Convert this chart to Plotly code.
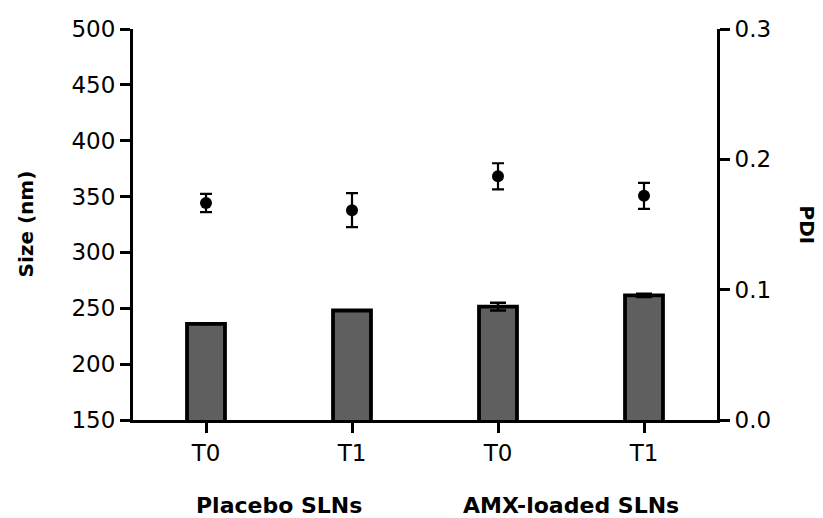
import plotly.graph_objects as go

tick_labels = ["T0", "T1", "T0", "T1"]
groups = ["Placebo SLNs", "AMX-loaded SLNs"]
size_nm = [236, 248, 251.5, 261.5]
size_err = [0, 0, 3.5, 1.5]
pdi = [0.1665, 0.161, 0.187, 0.172]
pdi_err = [0.007, 0.013, 0.010, 0.010]

x = list(range(len(tick_labels)))
FONT = "DejaVu Sans"

fig = go.Figure()
fig.add_trace(go.Bar(
    x=x, y=size_nm, width=0.26,
    marker=dict(color="#5f5f5f", line=dict(color="black", width=3.8)),
    error_y=dict(type="data", array=size_err, color="black", thickness=2.5, width=8),
    yaxis="y", showlegend=False,
))
fig.add_trace(go.Scatter(
    x=x, y=pdi, mode="markers",
    marker=dict(color="black", size=12),
    error_y=dict(type="data", array=pdi_err, color="black", thickness=2.2, width=6),
    yaxis="y2", showlegend=False,
))

axis_common = dict(showline=True, linecolor="black", linewidth=3, ticks="outside",
                   ticklen=10, tickwidth=3, tickcolor="black", showgrid=False, zeroline=False,
                   tickfont=dict(family=FONT, size=23, color="black"))

fig.update_layout(
    width=823, height=518,
    margin=dict(l=133, r=106, t=29, b=98),
    plot_bgcolor="white", paper_bgcolor="white",
    xaxis=dict(range=[-0.5, 3.5], tickvals=x, ticktext=tick_labels, **axis_common),
    yaxis=dict(range=[150, 500], tickvals=[150, 200, 250, 300, 350, 400, 450, 500],
               **axis_common),
    yaxis2=dict(range=[0, 0.3], tickvals=[0, 0.1, 0.2, 0.3], tickformat=".1f",
                overlaying="y", side="right", **axis_common),
    font=dict(family=FONT, color="black"),
)

for i, g in enumerate(groups):
    fig.add_annotation(x=2 * i + 0.5, y=-0.218, xref="x", yref="paper", text="<b>" + g + "</b>",
                       showarrow=False, font=dict(family=FONT, size=22, color="black"),
                       yanchor="middle")

fig.add_annotation(x=0, xref="paper", xanchor="center", xshift=-108, y=0.5, yref="paper",
                   text="<b>Size (nm)</b>", textangle=-90, showarrow=False,
                   font=dict(family=FONT, size=20, color="black"))
fig.add_annotation(x=1, xref="paper", xanchor="center", xshift=90, y=0.5, yref="paper",
                   text="<b>PDI</b>", textangle=90, showarrow=False,
                   font=dict(family=FONT, size=20, color="black"))

fig.write_html("out.html")
